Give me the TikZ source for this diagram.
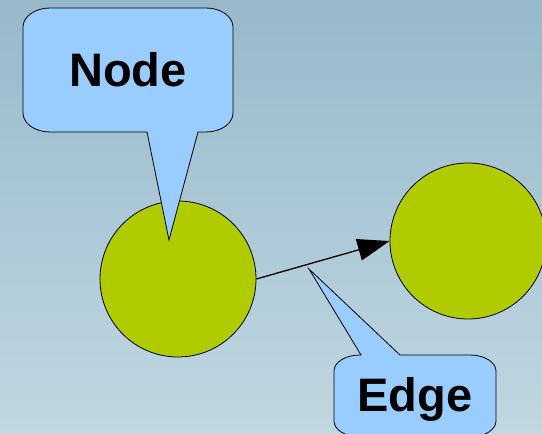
\documentclass[tikz,border=0pt]{standalone}
\usepackage{fontspec}
\setmainfont{Liberation Sans}
\usepackage{tikz}
\usetikzlibrary{positioning,arrows.meta}
\definecolor{slidetop}{RGB}{151,185,203}
\definecolor{slidebottom}{RGB}{193,215,225}
\definecolor{ballgreen}{RGB}{176,204,0}
\definecolor{bubbleblue}{RGB}{153,204,255}
\tikzstyle{ball} = [
circle,
draw=black,
line width=0.8pt,
fill=ballgreen,
minimum size=156pt,
inner sep=0pt
]
\tikzstyle{bubble} = [
draw=black,
line width=0.8pt,
fill=bubbleblue
]
\tikzstyle{tag} = [
font=\fontsize{47}{50}\selectfont\bfseries,
anchor=base,
inner sep=0pt
]

\begin{document}
\begin{tikzpicture}[
	x=1pt,
	y=1pt,
	>={Triangle[length=32pt,width=22pt]}
	]
	
	\clip (0,0) rectangle (542,434);
	\shade[top color=slidetop, bottom color=slidebottom] (0,0) rectangle (542,434);
	
	\node[ball] (lball) at (178,155) {};
	\node[ball] (rball) at (468,193) {};
	
	\draw[->, line width=1.3pt] (lball.east) -- (rball.west);
	
	% callout for the node
	\draw[bubble] (50,426) -- (206,426)
		arc[start angle=90, end angle=0, x radius=27pt, y radius=19pt] -- (233,321)
		arc[start angle=0, end angle=-90, x radius=27pt, y radius=19pt] -- (198,302)
		-- (169,194) -- (147,302) -- (50,302)
		arc[start angle=270, end angle=180, x radius=27pt, y radius=19pt] -- (23,407)
		arc[start angle=180, end angle=90, x radius=27pt, y radius=19pt] -- cycle;
	\node[tag] (nodetag) at (128,347) {Node};
	
	% callout for the edge
	\draw[bubble] (361,79) -- (309,165) -- (400,79) -- (470,79)
		arc[start angle=90, end angle=0, x radius=26pt, y radius=16pt] -- (496,13)
		arc[start angle=0, end angle=-90, x radius=26pt, y radius=16pt] -- (360,-3)
		arc[start angle=270, end angle=180, x radius=26pt, y radius=16pt] -- (334,63)
		arc[start angle=180, end angle=90, x radius=26pt, y radius=16pt] -- cycle;
	\node[tag] (edgetag) at (415,22) {Edge};
	
\end{tikzpicture}
\end{document}
